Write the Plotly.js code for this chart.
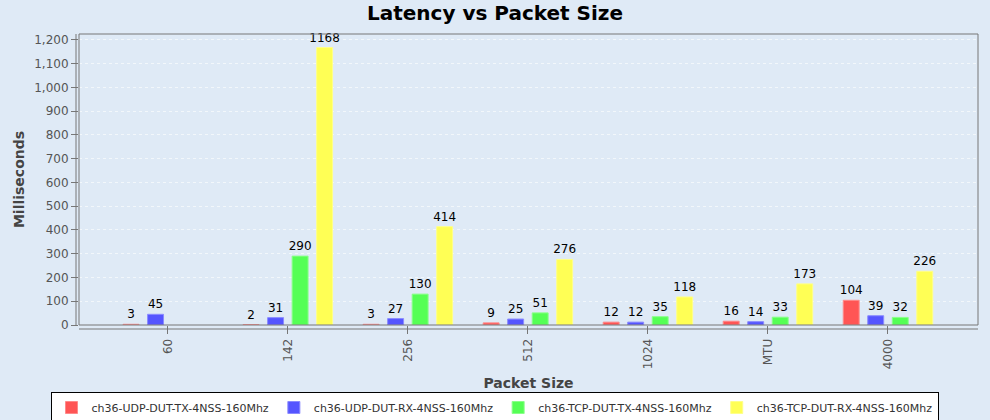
<!DOCTYPE html>
<html>
<head>
<meta charset="utf-8">
<script src="https://cdn.plot.ly/plotly-3.0.1.min.js"></script>
<style>html,body{margin:0;padding:0;background:#dfeaf6;}#chart{width:990px;height:420px;}</style>
</head>
<body>
<div id="chart"></div>
<script>
var categories = ["60", "142", "256", "512", "1024", "MTU", "4000"];
var seriesNames = [
  "ch36-UDP-DUT-TX-4NSS-160Mhz",
  "ch36-UDP-DUT-RX-4NSS-160Mhz",
  "ch36-TCP-DUT-TX-4NSS-160Mhz",
  "ch36-TCP-DUT-RX-4NSS-160Mhz"
];
var udpTx = [3, 2, 3, 9, 12, 16, 104];
var udpRx = [45, 31, 27, 25, 12, 14, 39];
var tcpTx = [null, 290, 130, 51, 35, 33, 32];
var tcpRx = [null, 1168, 414, 276, 118, 173, 226];
var colors = ["#ff5555", "#5555ff", "#55ff55", "#ffff55"];
var lineColors = ["#ff8a8a", "#8a8aff", "#8aff8a", "#ffff8a"];

var allSeries = [udpTx, udpRx, tcpTx, tcpRx];
var traces = allSeries.map(function (vals, i) {
  return {
    type: "bar",
    name: seriesNames[i],
    x: categories,
    y: vals,
    text: vals.map(function (v) { return v === null ? "" : String(v); }),
    textposition: "outside",
    constraintext: "none",
    textfont: {family: "DejaVu Sans", size: 12, color: "#000"},
    cliponaxis: false,
    marker: {color: colors[i], line: {color: lineColors[i], width: 1}},
    hoverinfo: "x+y+name"
  };
});

var layout = {
  width: 990,
  height: 420,
  paper_bgcolor: "#dfeaf6",
  plot_bgcolor: "#dfeaf6",
  margin: {l: 79, r: 12, t: 34, b: 95, pad: 0},
  barmode: "group",
  bargap: 0.183,
  bargroupgap: 0.35,
  font: {family: "DejaVu Sans", color: "#444"},
  title: {
    text: "<b>Latency vs Packet Size</b>",
    font: {family: "DejaVu Sans", size: 20, color: "#000"},
    x: 0.5, xanchor: "center",
    yref: "container", y: 1 - 13 / 420, yanchor: "middle"
  },
  xaxis: {
    type: "category",
    range: [-0.74, 6.75],
    tickangle: -90,
    ticks: "outside",
    ticklen: 8,
    tickcolor: "#777",
    tickfont: {family: "DejaVu Sans", size: 12, color: "#555"},
    showgrid: false,
    zeroline: false,
    showline: false,
    automargin: false,
    title: {
      text: "<b>Packet Size</b>",
      font: {family: "DejaVu Sans", size: 14, color: "#444"},
      standoff: 9
    }
  },
  yaxis: {
    range: [0, 1225],
    dtick: 100,
    tick0: 0,
    tickformat: ",d",
    ticks: "outside",
    ticklen: 7,
    tickcolor: "#777",
    tickfont: {family: "DejaVu Sans", size: 12, color: "#555"},
    showgrid: true,
    gridcolor: "rgba(255,255,255,0.6)",
    griddash: "3px,3px",
    gridwidth: 1,
    zeroline: false,
    showline: false,
    automargin: false,
    title: {
      text: "<b>Milliseconds</b>",
      font: {family: "DejaVu Sans", size: 14, color: "#444"},
      standoff: 6
    }
  },
  legend: {
    orientation: "h",
    xref: "container",
    yref: "container",
    x: 494.5 / 990, xanchor: "center",
    y: 1 - 392 / 420, yanchor: "top",
    bgcolor: "#ffffff",
    bordercolor: "#000",
    borderwidth: 1,
    font: {family: "DejaVu Sans", size: 11, color: "#333"},
    itemwidth: 30,
    tracegroupgap: 0
  },
  shapes: [
    {type: "rect", xref: "paper", yref: "paper", x0: 0, x1: 1, y0: 0, y1: 1,
     line: {color: "#777", width: 1}, fillcolor: "rgba(0,0,0,0)", layer: "above"},
    {type: "line", xref: "paper", yref: "paper", x0: -3 / 899, x1: -3 / 899, y0: 0, y1: 1,
     line: {color: "#777", width: 1}},
    {type: "line", xref: "paper", yref: "paper", x0: 0, x1: 1, y0: -4 / 291, y1: -4 / 291,
     line: {color: "#777", width: 1}}
  ]
};

Plotly.newPlot("chart", traces, layout, {displayModeBar: false, staticPlot: true});
</script>
</body>
</html>
